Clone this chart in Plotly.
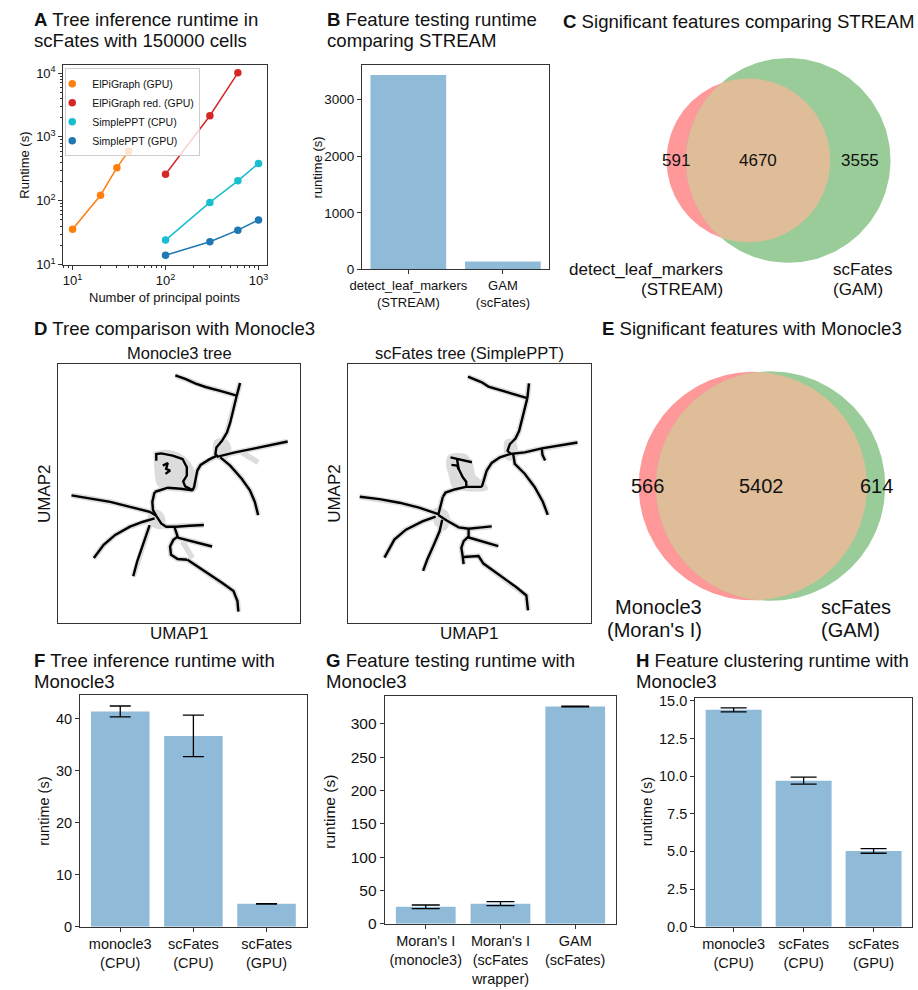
import numpy as np
import plotly.graph_objects as go

W, H = 918, 990
FONT = "Liberation Sans, Arial, Helvetica, sans-serif"
TXT = "#111111"
AXC = "#333333"
BAR = "#8fbbd9"

# ---------------- DATA ----------------
# Panel A : runtime vs number of principal points (log-log)
a_names = ["ElPiGraph (GPU)", "ElPiGraph red. (GPU)", "SimplePPT (CPU)", "SimplePPT (GPU)"]
a_elpi_x = [10, 20, 30, 40]
a_elpi_y = [35.8, 122, 330, 598]
a_elpired_x = [100, 300, 600]
a_elpired_y = [260, 2146, 10100]
a_pptcpu_x = [100, 300, 600, 1000]
a_pptcpu_y = [24.2, 94, 205, 385]
a_pptgpu_x = [100, 300, 600, 1000]
a_pptgpu_y = [14.0, 22.8, 34.6, 50]
a_tickvals = [10, 100, 1000, 10000]
a_ticktext = ["10<sup>1</sup>", "10<sup>2</sup>", "10<sup>3</sup>", "10<sup>4</sup>"]

# Panel B
b_cats = ["detect_leaf_markers<br>(STREAM)", "GAM<br>(scFates)"]
b_vals = [3430, 140]

# Panel C / E : Venn counts (only first, both, only second)
c_counts = [591, 4670, 3555]
c_labels = [["detect_leaf_markers", "(STREAM)"], ["scFates", "(GAM)"]]
e_counts = [566, 5402, 614]
e_labels = [["Monocle3", "(Moran's I)"], ["scFates", "(GAM)"]]

# Panel D : trees in UMAP space (branches as lists of (UMAP1, UMAP2))
mono_branches = [
    [(37.8, 79.3), (41.0, 78.2), (44.0, 76.8), (47.0, 75.8), (52.0, 74.5), (56.5, 73.2)],
    [(56.5, 73.2), (57.0, 75.0), (57.5, 77.0)],
    [(56.5, 73.2), (55.5, 69.0), (54.5, 65.0), (53.5, 62.0), (52.0, 59.5), (50.3, 57.5), (50.0, 55.5), (51.0, 54.5)],
    [(51.0, 54.8), (56.0, 56.0), (62.0, 57.2), (72.0, 59.3)],
    [(51.5, 54.5), (54.5, 52.0), (58.0, 48.0), (60.5, 44.5), (62.0, 41.0), (63.0, 37.0)],
    [(50.5, 55.0), (48.0, 53.8), (45.5, 52.2), (44.5, 50.5), (44.0, 48.0), (43.5, 45.5), (43.0, 44.5)],
    [(32.0, 53.5), (32.0, 55.5), (33.5, 55.7), (37.0, 55.0), (40.0, 54.0), (41.3, 51.5), (41.3, 49.0), (40.2, 47.2), (40.8, 45.7), (43.2, 44.5)],
    [(34.0, 52.0), (35.5, 52.8), (35.0, 51.0), (36.2, 50.5), (34.8, 49.5)],
    [(43.0, 44.5), (39.5, 45.0), (35.5, 45.3), (33.0, 44.5), (31.5, 44.0)],
    [(31.5, 44.0), (30.8, 41.0), (31.0, 38.5), (32.0, 36.8)],
    [(6.2, 43.0), (12.0, 42.0), (18.0, 41.0), (24.0, 39.5), (30.0, 38.0), (32.0, 36.8)],
    [(32.0, 36.8), (33.5, 34.5), (35.0, 33.5), (38.0, 33.5), (42.0, 33.8), (46.5, 34.0)],
    [(31.5, 36.0), (28.0, 35.0), (24.0, 33.5), (19.5, 31.0), (16.0, 28.0), (13.0, 24.0)],
    [(30.0, 34.0), (29.0, 31.0), (27.5, 27.0), (26.2, 23.0), (25.0, 18.5)],
    [(37.5, 33.5), (38.5, 30.5), (37.2, 29.5), (36.2, 27.5), (36.5, 25.0), (38.5, 23.7), (41.5, 23.5)],
    [(38.5, 30.2), (43.0, 29.0), (49.0, 27.5)],
    [(41.5, 23.5), (43.0, 22.5), (47.0, 20.0), (52.0, 16.5), (55.5, 14.0), (56.7, 11.0), (57.0, 7.8)],
]
mono_cells = [
    [(32.0, 55.5), (34.5, 56.5), (39.5, 55.2), (42.0, 53.0), (43.5, 50.0), (44.5, 46.5), (43.5, 44.3), (40.0, 44.7), (34.5, 45.0), (32.5, 46.3), (31.8, 50.0)],
    [(50.0, 59.5), (52.5, 60.0), (54.3, 58.2), (54.2, 55.3), (52.5, 54.0), (50.0, 54.5), (49.5, 57.0)],
    [(30.2, 38.2), (32.8, 38.2), (34.4, 36.0), (34.0, 33.2), (31.3, 33.5), (29.8, 35.5)],
]
mono_cell_streaks = [
    [(58.0, 56.0), (63.0, 53.0)],
    [(40.0, 29.0), (43.0, 24.0)],
]

ppt_branches = [
    [(39.8, 79.0), (42.0, 78.2), (44.0, 77.3), (46.0, 76.0), (52.0, 74.2), (57.8, 72.5)],
    [(57.8, 72.5), (58.0, 75.0), (58.3, 77.0)],
    [(57.8, 72.5), (56.5, 67.0), (55.3, 62.5), (54.2, 60.2), (52.5, 58.5), (51.8, 56.5), (52.8, 55.5)],
    [(52.5, 55.5), (57.0, 56.0), (62.2, 57.2), (68.0, 58.2), (73.0, 59.0)],
    [(62.2, 57.0), (62.4, 55.2), (63.2, 53.5)],
    [(53.5, 55.5), (54.0, 52.5), (57.0, 49.5), (60.0, 45.5), (62.5, 41.0), (64.0, 37.0)],
    [(52.5, 55.5), (49.5, 54.5), (47.0, 52.8), (45.5, 50.5), (44.6, 47.5), (44.0, 45.5)],
    [(44.0, 45.5), (41.0, 45.4), (39.2, 45.5), (36.0, 44.8), (33.0, 43.8), (32.2, 42.5)],
    [(39.3, 45.5), (39.3, 47.0), (38.2, 48.5), (37.2, 50.8), (36.5, 52.0), (34.8, 52.2)],
    [(34.5, 54.5), (38.0, 53.8), (41.0, 53.0)],
    [(36.5, 54.0), (37.0, 50.8)],
    [(32.2, 42.5), (31.5, 40.0), (31.0, 38.0), (30.8, 37.0)],
    [(7.0, 42.5), (13.0, 41.8), (19.0, 40.7), (25.0, 39.2), (30.8, 37.2)],
    [(30.8, 37.0), (33.5, 35.2), (37.0, 33.2), (40.0, 32.8), (44.0, 33.2), (47.0, 33.5)],
    [(30.0, 36.5), (26.0, 35.0), (21.0, 32.5), (17.5, 29.5), (14.5, 24.0)],
    [(32.0, 35.5), (31.2, 32.0), (29.5, 28.0), (27.5, 23.5), (26.2, 20.0)],
    [(40.0, 32.8), (40.0, 30.5), (38.5, 29.0), (37.8, 27.0), (38.2, 24.5), (38.5, 22.0)],
    [(39.8, 30.2), (44.0, 29.0), (49.0, 27.5)],
    [(38.5, 24.2), (43.0, 24.5), (44.5, 22.2), (50.0, 18.2), (54.5, 15.0), (57.5, 12.5), (58.0, 8.0)],
]
ppt_cells = [
    [(34.0, 54.8), (39.0, 55.2), (41.0, 52.5), (41.8, 49.0), (45.0, 46.3), (45.5, 44.8), (42.0, 44.4), (38.0, 44.6), (35.2, 45.8), (34.3, 49.0), (33.5, 52.0)],
    [(51.3, 59.5), (53.8, 59.5), (54.6, 57.0), (54.2, 54.3), (51.8, 53.9), (51.0, 56.5)],
    [(29.8, 38.7), (32.8, 38.3), (34.1, 35.6), (32.8, 32.5), (30.3, 33.8), (29.4, 36.0)],
]
ppt_cell_streaks = []

# Panels F, G, H
f_cats = ["monocle3<br>(CPU)", "scFates<br>(CPU)", "scFates<br>(GPU)"]
f_vals = [41.4, 36.7, 4.4]
f_err = [1.05, 4.0, 0.05]
g_cats = ["Moran's I<br>(monocle3)", "Moran's I<br>(scFates<br>wrapper)", "GAM<br>(scFates)"]
g_vals = [25.5, 30.2, 326]
g_err = [2.7, 2.9, 0.6]
h_cats = ["monocle3<br>(CPU)", "scFates<br>(CPU)", "scFates<br>(GPU)"]
h_vals = [14.4, 9.7, 5.03]
h_err = [0.13, 0.23, 0.15]


# ---------------- HELPERS ----------------
def px(x):
    return x / W


def py(y):
    return 1 - y / H


def dom_x(a, b):
    return [a / W, b / W]


def dom_y(top, bot):
    return [1 - bot / H, 1 - top / H]


def join_paths(paths):
    xs, ys = [], []
    for p in paths:
        for (u, v) in p:
            xs.append(u)
            ys.append(v)
        xs.append(None)
        ys.append(None)
    return xs, ys


def lens_area(r1, r2, d):
    a1 = np.arccos(np.clip((d * d + r1 * r1 - r2 * r2) / (2 * d * r1), -1, 1))
    a2 = np.arccos(np.clip((d * d + r2 * r2 - r1 * r1) / (2 * d * r2), -1, 1))
    k = max(0.0, (-d + r1 + r2) * (d + r1 - r2) * (d - r1 + r2) * (d + r1 + r2))
    return r1 * r1 * a1 + r2 * r2 * a2 - 0.5 * np.sqrt(k)


def venn_geom(counts):
    a_only, both, b_only = counts
    r1 = np.sqrt((a_only + both) / np.pi)
    r2 = np.sqrt((b_only + both) / np.pi)
    lo, hi = abs(r1 - r2) + 1e-9, r1 + r2 - 1e-9
    for _ in range(200):
        mid = 0.5 * (lo + hi)
        if lens_area(r1, r2, mid) > both:
            lo = mid
        else:
            hi = mid
    return r1, r2, 0.5 * (lo + hi)


fig = go.Figure()

# ---------------- PANEL A ----------------
a_colors = ["#ff7f0e", "#d62728", "#17becf", "#1f77b4"]
a_xs = [a_elpi_x, a_elpired_x, a_pptcpu_x, a_pptgpu_x]
a_ys = [a_elpi_y, a_elpired_y, a_pptcpu_y, a_pptgpu_y]
for name, xs, ys, c in zip(a_names, a_xs, a_ys, a_colors):
    fig.add_trace(go.Scatter(x=xs, y=ys, mode="lines", line=dict(color=c, width=1.5),
                             xaxis="x", yaxis="y", showlegend=False, hoverinfo="skip"))
    fig.add_trace(go.Scatter(x=xs, y=ys, mode="markers", marker=dict(color=c, size=7.5),
                             name=name, xaxis="x", yaxis="y"))

# ---------------- PANEL B ----------------
fig.add_trace(go.Bar(x=b_cats, y=b_vals, width=0.8, marker=dict(color=BAR, line=dict(width=0)),
                     xaxis="x2", yaxis="y2", showlegend=False))

# ---------------- VENN ----------------
RED, GREEN, MIX = "#ff9999", "#99cc99", "#e0bd99"
annotations = []


def add_venn(counts, xa, ya, size):
    r1, r2, d = venn_geom(counts)
    t = np.linspace(0, 2 * np.pi, 241)
    fig.add_trace(go.Scatter(x=r1 * np.cos(t), y=r1 * np.sin(t), fill="toself", fillcolor=RED,
                             mode="lines", line=dict(width=0), xaxis=xa, yaxis=ya,
                             showlegend=False, hoverinfo="skip"))
    fig.add_trace(go.Scatter(x=d + r2 * np.cos(t), y=r2 * np.sin(t), fill="toself", fillcolor=GREEN,
                             mode="lines", line=dict(width=0), xaxis=xa, yaxis=ya,
                             showlegend=False, hoverinfo="skip"))
    a1 = np.arccos(np.clip((d * d + r1 * r1 - r2 * r2) / (2 * d * r1), -1, 1))
    a2 = np.arccos(np.clip((d * d + r2 * r2 - r1 * r1) / (2 * d * r2), -1, 1))
    t1 = np.linspace(-a1, a1, 160)
    t2 = np.linspace(np.pi - a2, np.pi + a2, 160)
    lx = np.concatenate([r1 * np.cos(t1), d + r2 * np.cos(t2)])
    ly = np.concatenate([r1 * np.sin(t1), r2 * np.sin(t2)])
    fig.add_trace(go.Scatter(x=lx, y=ly, fill="toself", fillcolor=MIX, mode="lines",
                             line=dict(width=0), xaxis=xa, yaxis=ya,
                             showlegend=False, hoverinfo="skip"))
    xs = [(-r1 + (d - r2)) / 2, ((d - r2) + r1) / 2, (r1 + d + r2) / 2]
    for xv, cnt in zip(xs, counts):
        annotations.append(dict(x=xv, y=0, xref=xa, yref=ya, text=str(cnt),
                                showarrow=False, font=dict(size=size, color=TXT),
                                xanchor="center", yanchor="middle"))
    return r1, r2, d


def venn_axes(r1, box, center, rad_px):
    # box = (left, top, right, bottom) in px, center = px of first circle centre
    s = rad_px / r1
    x0, t0, x1, b0 = box
    cx, cy = center
    xr = [(x0 - cx) / s, (x1 - cx) / s]
    yr = [-(b0 - cy) / s, (cy - t0) / s]
    return xr, yr


rC1, rC2, dC = add_venn(c_counts, "x3", "y3", 17)
rE1, rE2, dE = add_venn(e_counts, "x6", "y6", 20)
c_box = (560, 40, 916, 300)
e_box = (600, 360, 916, 615)
c_xr, c_yr = venn_axes(rC1, c_box, (747, 157.5), 83)
e_xr, e_yr = venn_axes(rE1, e_box, (751.5, 487.5), 115.8)

# ---------------- TREES ----------------
GREY = "#dcdcdc"


def add_tree(branches, cells, streaks, xa, ya):
    for poly in cells:
        xs = [p[0] for p in poly] + [poly[0][0]]
        ys = [p[1] for p in poly] + [poly[0][1]]
        fig.add_trace(go.Scatter(x=xs, y=ys, fill="toself", fillcolor=GREY, mode="lines",
                                 line=dict(width=2, color=GREY, shape="spline"), xaxis=xa, yaxis=ya,
                                 showlegend=False, hoverinfo="skip"))
    hx, hy = join_paths(branches + streaks)
    fig.add_trace(go.Scatter(x=hx, y=hy, mode="lines", line=dict(width=5.5, color=GREY),
                             xaxis=xa, yaxis=ya, showlegend=False, hoverinfo="skip"))
    bx, by = join_paths(branches)
    fig.add_trace(go.Scatter(x=bx, y=by, mode="lines", line=dict(width=2.4, color="black"),
                             xaxis=xa, yaxis=ya, showlegend=False, hoverinfo="skip"))


add_tree(mono_branches, mono_cells, mono_cell_streaks, "x4", "y4")
add_tree(ppt_branches, ppt_cells, ppt_cell_streaks, "x5", "y5")

# ---------------- F, G, H ----------------
for cats, vals, err, xa, ya, cap in [(f_cats, f_vals, f_err, "x7", "y7", 10.5),
                                     (g_cats, g_vals, g_err, "x8", "y8", 14),
                                     (h_cats, h_vals, h_err, "x9", "y9", 13)]:
    fig.add_trace(go.Bar(x=cats, y=vals, width=0.8, marker=dict(color=BAR, line=dict(width=0)),
                         error_y=dict(type="data", array=err, visible=True, color="black",
                                      thickness=1.3, width=cap),
                         xaxis=xa, yaxis=ya, showlegend=False))


# ---------------- AXES ----------------
def frame(dom, anchor, size, **kw):
    d = dict(domain=dom, anchor=anchor, showline=True, linecolor=AXC, linewidth=1, mirror=True,
             ticks="outside", ticklen=4, tickcolor=AXC, tickwidth=1, showgrid=False,
             zeroline=False, tickfont=dict(size=size, color=TXT))
    d.update(kw)
    return d


def hidden(dom, anchor, rng):
    return dict(domain=dom, anchor=anchor, range=rng, visible=False, fixedrange=True)


minor_vals = [m * 10 ** k for k in range(0, 5) for m in range(2, 10)]

layout_axes = dict(
    xaxis=frame(dom_x(52, 259), "y", 13, type="log", range=[0.9, 3.095],
                tickvals=a_tickvals, ticktext=a_ticktext,
                minor=dict(tickmode="array", tickvals=minor_vals, ticks="outside", ticklen=2,
                           tickcolor=AXC)),
    yaxis=frame(dom_y(61, 263), "x", 13, type="log", range=[1.0, 4.124],
                tickvals=a_tickvals, ticktext=a_ticktext,
                minor=dict(tickmode="array", tickvals=minor_vals, ticks="outside", ticklen=2,
                           tickcolor=AXC)),
    xaxis2=frame(dom_x(355, 545), "y2", 13, type="category", range=[-0.49, 1.49]),
    yaxis2=frame(dom_y(61, 268), "x2", 13.5, range=[0, 3605], tickvals=[0, 1000, 2000, 3000]),
    xaxis3=hidden(dom_x(c_box[0], c_box[2]), "y3", c_xr),
    yaxis3=hidden(dom_y(c_box[1], c_box[3]), "x3", c_yr),
    xaxis4=frame(dom_x(47, 292), "y4", 10, range=[2.2, 75.7], ticks="", showticklabels=False),
    yaxis4=frame(dom_y(364, 626), "x4", 10, range=[4.4, 82.7], ticks="", showticklabels=False),
    xaxis5=frame(dom_x(341, 587), "y5", 10, range=[3.5, 77.0], ticks="", showticklabels=False),
    yaxis5=frame(dom_y(364, 626), "x5", 10, range=[4.2, 82.8], ticks="", showticklabels=False),
    xaxis6=hidden(dom_x(e_box[0], e_box[2]), "y6", e_xr),
    yaxis6=hidden(dom_y(e_box[1], e_box[3]), "x6", e_yr),
    xaxis7=frame(dom_x(69, 299), "y7", 14.5, type="category", range=[-0.55, 2.55]),
    yaxis7=frame(dom_y(699, 934), "x7", 14.5, range=[0, 44.6], tickvals=[0, 10, 20, 30, 40]),
    xaxis8=frame(dom_x(378, 613), "y8", 14.5, type="category", range=[-0.55, 2.55]),
    yaxis8=frame(dom_y(700, 931), "x8", 15.5, range=[0, 342],
                 tickvals=[0, 50, 100, 150, 200, 250, 300]),
    xaxis9=frame(dom_x(693, 913), "y9", 14.5, type="category", range=[-0.55, 2.55]),
    yaxis9=frame(dom_y(702, 934), "x9", 14.5, range=[0, 15.2],
                 tickvals=[0, 2.5, 5, 7.5, 10, 12.5, 15], tickformat=".1f"),
)


# ---------------- TEXT ----------------
def ptext(x, y, text, size, anchor="left", angle=0):
    annotations.append(dict(x=px(x), y=py(y), xref="paper", yref="paper", text=text,
                            showarrow=False, xanchor=anchor, yanchor="middle", textangle=angle,
                            font=dict(size=size, color=TXT)))


TS = 18.6
ptext(20, 14.5, "<b>A</b> Tree inference runtime in", TS)
ptext(20, 36, "scFates with 150000 cells", TS)
ptext(318, 14.5, "<b>B</b> Feature testing runtime", TS)
ptext(318, 36, "comparing STREAM", TS)
ptext(557, 16.5, "<b>C</b> Significant features comparing STREAM", TS)
ptext(20, 328, "<b>D</b> Tree comparison with Monocle3", TS)
ptext(596, 327.5, "<b>E</b> Significant features with Monocle3", TS)
ptext(20, 664.5, "<b>F</b> Tree inference runtime with", TS)
ptext(20, 686, "Monocle3", TS)
ptext(316, 664.5, "<b>G</b> Feature testing runtime with", TS)
ptext(316, 686, "Monocle3", TS)
ptext(631, 664.5, "<b>H</b> Feature clustering runtime with", TS)
ptext(631, 686, "Monocle3", TS)

# axis labels
ptext(13, 162, "Runtime (s)", 13, "center", -90)
ptext(155, 296, "Number of principal points", 13, "center")
ptext(310, 165, "runtime (s)", 13, "center", -90)
ptext(33, 817, "runtime (s)", 14.5, "center", -90)
ptext(322, 817, "runtime (s)", 15.5, "center", -90)
ptext(644, 817, "runtime (s)", 14.5, "center", -90)

# tree panel labels
ptext(169.5, 353, "Monocle3 tree", 16.5, "center")
ptext(464, 353, "scFates tree (SimplePPT)", 16.5, "center")
ptext(33, 495, "UMAP2", 17, "center", -90)
ptext(327, 495, "UMAP2", 17, "center", -90)
ptext(169.5, 637, "UMAP1", 17, "center")
ptext(464, 637, "UMAP1", 17, "center")

# venn set labels
ptext(723, 268.5, c_labels[0][0], 17, "right")
ptext(723, 288, c_labels[0][1], 17, "right")
ptext(831, 268.5, c_labels[1][0], 17, "left")
ptext(831, 288, c_labels[1][1], 17, "left")
ptext(702, 610.5, e_labels[0][0], 20, "right")
ptext(702, 633.5, e_labels[0][1], 20, "right")
ptext(819, 610.5, e_labels[1][0], 20, "left")
ptext(819, 633.5, e_labels[1][1], 20, "left")

fig.update_layout(
    width=W, height=H, margin=dict(l=0, r=0, t=0, b=0),
    paper_bgcolor="white", plot_bgcolor="white",
    font=dict(family=FONT, color=TXT),
    showlegend=True,
    legend=dict(x=px(54), y=py(64), xanchor="left", yanchor="top", bgcolor="rgba(255,255,255,0.8)",
                bordercolor="#cccccc", borderwidth=1, font=dict(size=10.5), tracegroupgap=0,
                itemwidth=30, indentation=-14),
    annotations=annotations,
    bargap=0.2,
)
fig.update_layout(**layout_axes)

fig.write_html(
    "out.html",
    config={"displayModeBar": False},
    post_script="document.body.style.margin='0';document.body.style.padding='0';"
                "document.documentElement.style.overflow='hidden';",
)
